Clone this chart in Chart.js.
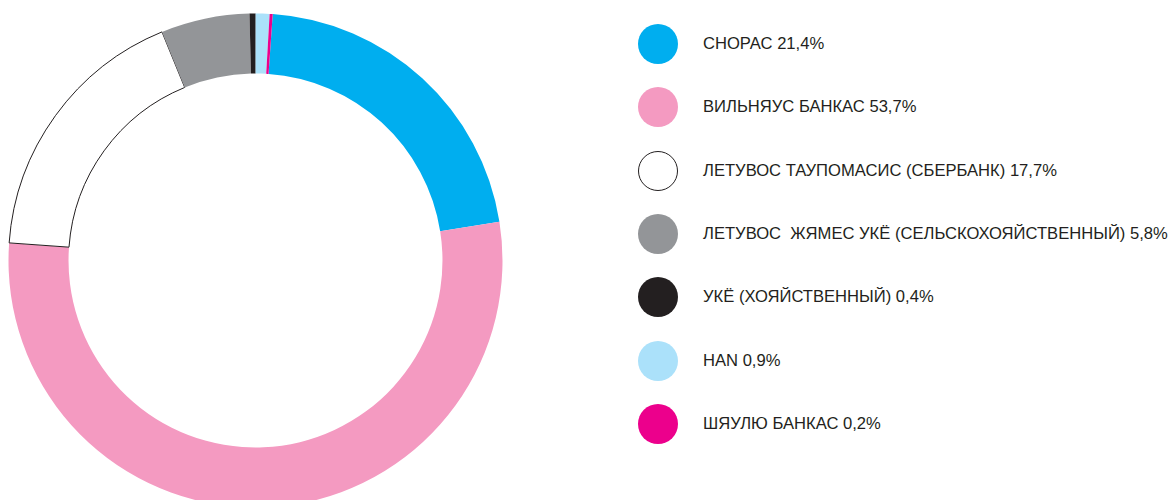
<!DOCTYPE html>
<html>
<head>
<meta charset="utf-8">
<script src="https://cdn.jsdelivr.net/npm/chart.js@4"></script>
<style>
  html, body { margin: 0; padding: 0; background: #fff; }
  body { width: 1176px; height: 500px; overflow: hidden; position: relative; }
  #wrap { position: absolute; left: 8px; top: 13px; width: 495px; height: 495px; }
  #legend { position: absolute; left: 638px; top: 0; }
  .item { position: absolute; left: 0; height: 40px; white-space: pre; }
  .dot { position: absolute; left: 0; top: 0; width: 40px; height: 40px; border-radius: 50%; box-sizing: border-box; }
  .txt { position: absolute; left: 65px; top: 0; line-height: 40px;
         font-family: "Liberation Sans", Arial, sans-serif; font-size: 16.6px; color: #231f20; }
</style>
</head>
<body>
<div id="wrap"><canvas id="donut"></canvas></div>
<div id="legend"></div>
<script>
const labels = [
    "СНОРАС",
    "ВИЛЬНЯУС БАНКАС",
    "ЛЕТУВОС ТАУПОМАСИС (СБЕРБАНК)",
    "ЛЕТУВОС  ЖЯМЕС УКЁ (СЕЛЬСКОХОЯЙСТВЕННЫЙ)",
    "УКЁ (ХОЯЙСТВЕННЫЙ)",
    "HAN",
    "ШЯУЛЮ БАНКАС"
];
const shares = [21.4, 53.7, 17.7, 5.8, 0.4, 0.9, 0.2];
const shareText = ["21,4%", "53,7%", "17,7%", "5,8%", "0,4%", "0,9%", "0,2%"];
const colors = ["#00aeef", "#f49ac1", "#ffffff", "#939598", "#231f20", "#abe1fa", "#ec008c"];

// legend on the right
const legend = document.getElementById("legend");
labels.forEach((name, i) => {
    const item = document.createElement("div");
    item.className = "item";
    item.style.top = (24 + i * 63.3) + "px";
    const dot = document.createElement("div");
    dot.className = "dot";
    dot.style.background = colors[i];
    if (colors[i] === "#ffffff") dot.style.border = "1px solid #231f20";
    const txt = document.createElement("div");
    txt.className = "txt";
    txt.textContent = name + " " + shareText[i];
    item.appendChild(dot);
    item.appendChild(txt);
    legend.appendChild(item);
});

const ctx = document.getElementById("donut").getContext("2d");
const donut = new Chart(ctx, {
    type: "doughnut",
    data: {
        labels: labels,
        datasets: [
            {
                data: shares,
                backgroundColor: colors,
                borderColor: colors.map(c => c === "#ffffff" ? "#231f20" : c),
                borderWidth: colors.map(c => c === "#ffffff" ? 1 : 0),
            },
        ],
    },
    options: {
        responsive: true,
        maintainAspectRatio: false,
        animation: false,
        cutout: "75.7%",
        rotation: 4,
        layout: { padding: 0 },
        plugins: {
            legend: { display: false },
            tooltip: { enabled: false },
        },
    },
})
</script>
</body>
</html>
